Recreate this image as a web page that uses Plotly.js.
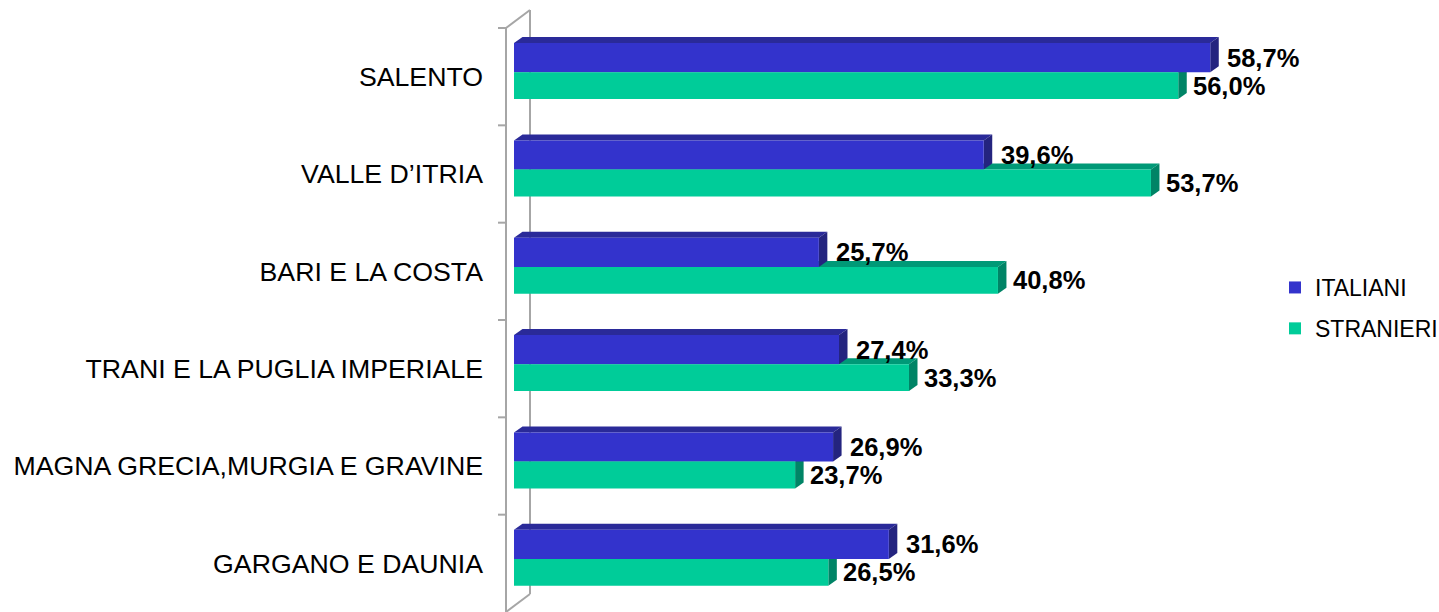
<!DOCTYPE html>
<html>
<head>
<meta charset="utf-8">
<script src="https://cdn.plot.ly/plotly-3.0.1.min.js"></script>
<style>html,body{margin:0;padding:0;background:#fff;}#chart{width:1439px;height:612px;}</style>
</head>
<body>
<div id="chart"></div>
<script>
// ---- data ----
const categories = ["SALENTO", "VALLE D\u2019ITRIA", "BARI E LA COSTA", "TRANI E LA PUGLIA IMPERIALE", "MAGNA GRECIA,MURGIA E GRAVINE", "GARGANO E DAUNIA"];
const italiani = [58.7, 39.6, 25.7, 27.4, 26.9, 31.6];
const stranieri = [56.0, 53.7, 40.8, 33.3, 23.7, 26.5];
const seriesNames = ["ITALIANI", "STRANIERI"];

// ---- layout geometry ----
const W = 1439, H = 612;
const L = 514, R = 154, T = 28, B = 0;
const xMax = 65;
const plotW = W - L - R, plotH = H - T - B;
const n = categories.length;
const pxPerX = plotW / xMax, pxPerY = plotH / n;
const dxPx = 8.5, dyPx = 6;
const dX = dxPx / pxPerX, dY = dyPx / pxPerY;

const FONT = "Liberation Sans, Arial, sans-serif";
const blue = "#3333CC", blueTop = "#2A2A99", blueSide = "#24247F";
const green = "#00CC99", greenTop = "#009977", greenSide = "#008466";

const idx = categories.map((c, i) => i);
const bW = 0.30, bOff = -0.345;
const gW = 0.275, gOff = -0.045;

function px2p(px, py) { return [(px - L) / plotW, 1 - (py - T) / plotH]; }

const shapes = [];
// walls (decoration)
const wallColor = "#A6A6A6";
function pline(x0, y0, x1, y1) {
  const a = px2p(x0, y0), b = px2p(x1, y1);
  shapes.push({type: "line", xref: "paper", yref: "paper", x0: a[0], y0: a[1], x1: b[0], y1: b[1],
    line: {color: wallColor, width: 2}, layer: "below"});
}
pline(530, 10, 530, 594);
pline(506, 28, 530, 10);
pline(506, 612, 530, 594);
pline(506, 28, 506, 612);
for (let k = 0; k < n; k++) {
  const yp = 1 - k / n;
  shapes.push({type: "line", xref: "paper", yref: "paper", x0: (498 - L) / plotW, x1: (506 - L) / plotW, y0: yp, y1: yp,
    line: {color: wallColor, width: 2}, layer: "below"});
}

function face(path, color) {
  shapes.push({type: "path", xref: "x", yref: "y", path: path, fillcolor: color, line: {width: 0}, layer: "below"});
}
function topFace(v, yTop, color) {
  face(`M0,${yTop} L${v},${yTop} L${v + dX},${yTop - dY} L${dX},${yTop - dY} Z`, color);
}
function sideFace(v, yTop, yBot, color) {
  face(`M${v},${yTop} L${v + dX},${yTop - dY} L${v + dX},${yBot - dY} L${v},${yBot} Z`, color);
}
idx.forEach(i => {
  const g = stranieri[i], b = italiani[i];
  topFace(g, i + gOff, greenTop);
  sideFace(g, i + gOff, i + gOff + gW, greenSide);
  topFace(b, i + bOff, blueTop);
  sideFace(b, i + bOff, i + bOff + bW, blueSide);
});

function fmt(v) { return v.toFixed(1).replace(".", ",") + "%"; }
const annotations = [];
idx.forEach(i => {
  annotations.push({x: italiani[i], y: i + bOff + bW / 2, xref: "x", yref: "y", text: "<b>" + fmt(italiani[i]) + "</b>",
    showarrow: false, xanchor: "left", yanchor: "middle", xshift: 15, font: {family: FONT, size: 25.5, color: "#000"}});
  annotations.push({x: stranieri[i], y: i + gOff + gW / 2, xref: "x", yref: "y", text: "<b>" + fmt(stranieri[i]) + "</b>",
    showarrow: false, xanchor: "left", yanchor: "middle", xshift: 13, font: {family: FONT, size: 25.5, color: "#000"}});
});

const traces = [
  {type: "bar", orientation: "h", name: seriesNames[0], legendgroup: "a", x: italiani, y: idx, width: bW, offset: bOff,
   marker: {color: blue, line: {width: 0}}, hoverinfo: "skip"},
  {type: "bar", orientation: "h", name: seriesNames[1], legendgroup: "b", x: stranieri, y: idx, width: gW, offset: gOff,
   marker: {color: green, line: {width: 0}}, hoverinfo: "skip"}
];

const layout = {
  width: W, height: H,
  margin: {l: L, r: R, t: T, b: B, pad: 0, autoexpand: false},
  paper_bgcolor: "#ffffff", plot_bgcolor: "rgba(0,0,0,0)",
  barmode: "overlay",
  showlegend: true,
  legend: {x: (1275 - L) / plotW, xanchor: "left", y: 1 - (266 - T) / plotH, yanchor: "top",
    font: {family: FONT, size: 23, color: "#000"}, bgcolor: "rgba(0,0,0,0)", traceorder: "grouped", tracegroupgap: 8},
  xaxis: {range: [0, xMax], showgrid: false, zeroline: false, showticklabels: false, showline: false, ticks: "", fixedrange: true},
  yaxis: {range: [n - 0.5, -0.5], tickmode: "array", tickvals: idx, ticktext: categories, showgrid: false, zeroline: false,
    showline: false, ticks: "", ticklabelstandoff: 30, tickfont: {family: FONT, size: 26.7, color: "#000"}, fixedrange: true},
  shapes: shapes,
  annotations: annotations,
  font: {family: FONT}
};

Plotly.newPlot("chart", traces, layout, {displayModeBar: false, staticPlot: true});
</script>
</body>
</html>
